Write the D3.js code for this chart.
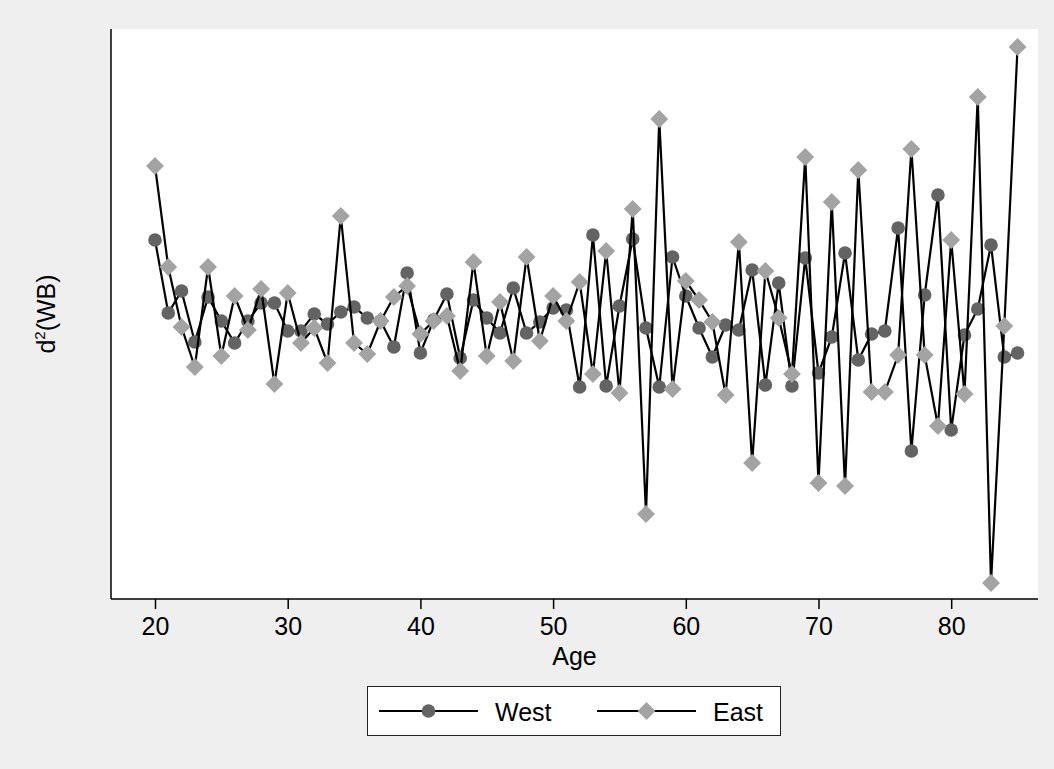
<!DOCTYPE html>
<html><head><meta charset="utf-8">
<script src="https://cdn.jsdelivr.net/npm/d3@7"></script>
<style>body{margin:0;background:#efefef}svg{display:block}text{font-family:"Liberation Sans",Arial,sans-serif}</style>
</head><body>
<script>
const ages = d3.range(20, 86);
const west = [3.59,2.86,3.08,2.57,3.02,2.78,2.56,2.78,2.96,2.96,2.68,2.68,2.85,2.75,2.87,2.92,2.81,2.78,2.52,3.26,2.46,2.79,3.05,2.41,2.99,2.81,2.66,3.11,2.66,2.77,2.91,2.89,2.12,3.64,2.13,2.93,3.60,2.71,2.12,3.42,3.03,2.71,2.42,2.74,2.69,3.29,2.14,3.16,2.13,3.41,2.26,2.62,3.46,2.39,2.65,2.68,3.71,1.48,3.04,4.04,1.69,2.64,2.90,3.54,2.42,2.46];
const east = [4.33,3.32,2.72,2.32,3.32,2.43,3.03,2.69,3.10,2.15,3.06,2.56,2.71,2.36,3.83,2.56,2.45,2.78,3.02,3.13,2.65,2.78,2.83,2.28,3.37,2.43,2.97,2.38,3.42,2.58,3.03,2.78,3.17,2.25,3.48,2.06,3.90,0.85,4.80,2.10,3.18,2.99,2.77,2.04,3.57,1.36,3.28,2.81,2.25,4.42,1.16,3.97,1.13,4.29,2.07,2.07,2.44,4.50,2.44,1.73,3.59,2.05,5.02,0.16,2.73,5.52];
const xTicks = [20,30,40,50,60,70,80];
const seriesNames = ["West","East"];

(function(){
const W = 1054, H = 769;
const svg = d3.select("body").append("svg").attr("width", W).attr("height", H);
svg.append("rect").attr("width", W).attr("height", H).attr("fill", "#efefef");

const pL = 111, pR = 1038, pT = 29, pB = 599;
svg.append("rect").attr("x", pL).attr("y", pT).attr("width", pR-pL).attr("height", pB-pT).attr("fill", "#fff");

const x = d3.scaleLinear().domain([20, 85]).range([155, 155 + 65*13.27]);
const y = d3.scaleLinear().domain([0, 5.7]).range([pB, pB - 570]);

const xAxis = d3.axisBottom(x).tickValues(xTicks).tickSize(10).tickPadding(8).tickFormat(d3.format("d"));
const gx = svg.append("g").attr("transform", `translate(0,${pB})`).call(xAxis);
gx.select(".domain").remove();
gx.selectAll(".tick line").attr("stroke", "#000").attr("stroke-width", 1.5);
gx.selectAll(".tick text").attr("font-size", 25).attr("fill", "#000").attr("font-family", "Liberation Sans, Arial, sans-serif");
svg.append("line").attr("x1", pL).attr("x2", pR).attr("y1", pB).attr("y2", pB).attr("stroke", "#000").attr("stroke-width", 1.5);
svg.append("line").attr("x1", pL).attr("x2", pL).attr("y1", pT).attr("y2", pB).attr("stroke", "#000").attr("stroke-width", 1.5);

svg.append("text").attr("x", (pL+pR)/2).attr("y", 665).attr("text-anchor", "middle").attr("font-size", 25).text("Age");
const yt = svg.append("text").attr("transform", `translate(55,${(pT+pB)/2}) rotate(-90)`).attr("text-anchor", "middle").attr("font-size", 25);
yt.append("tspan").text("d");
yt.append("tspan").attr("font-size", 15).attr("dy", -10).text("2");
yt.append("tspan").attr("dy", 10).text("(WB)");

const line = d3.line().x((d,i) => x(ages[i])).y(d => y(d));
const sq = d3.symbol().type(d3.symbolSquare).size(160);

function drawSeries(vals, kind) {
  svg.append("path").datum(vals).attr("d", line).attr("fill", "none").attr("stroke", "#000").attr("stroke-width", 2.2);
  const g = svg.append("g");
  if (kind === "circle") {
    g.selectAll("circle").data(vals).join("circle")
      .attr("cx", (d,i) => x(ages[i])).attr("cy", d => y(d)).attr("r", 6.8).attr("fill", "#636363");
  } else {
    g.selectAll("path").data(vals).join("path")
      .attr("transform", (d,i) => `translate(${x(ages[i])},${y(d)}) rotate(45)`)
      .attr("d", sq).attr("fill", "#a3a3a3");
  }
}
drawSeries(west, "circle");
drawSeries(east, "diamond");

const lg = svg.append("g");
lg.append("rect").attr("x", 367.5).attr("y", 686.5).attr("width", 413).attr("height", 49).attr("fill", "#fff").attr("stroke", "#222").attr("stroke-width", 1);
const items = [{name: seriesNames[0], x0: 379, kind: "circle"}, {name: seriesNames[1], x0: 597, kind: "diamond"}];
items.forEach(it => {
  lg.append("line").attr("x1", it.x0).attr("x2", it.x0 + 99).attr("y1", 711).attr("y2", 711).attr("stroke", "#000").attr("stroke-width", 2.2);
  if (it.kind === "circle") lg.append("circle").attr("cx", it.x0 + 49.5).attr("cy", 711).attr("r", 6.8).attr("fill", "#636363");
  else lg.append("path").attr("transform", `translate(${it.x0 + 49.5},711) rotate(45)`).attr("d", sq).attr("fill", "#a3a3a3");
  lg.append("text").attr("x", it.x0 + 116).attr("y", 721).attr("font-size", 25).text(it.name);
});
})();
</script>
</body></html>
